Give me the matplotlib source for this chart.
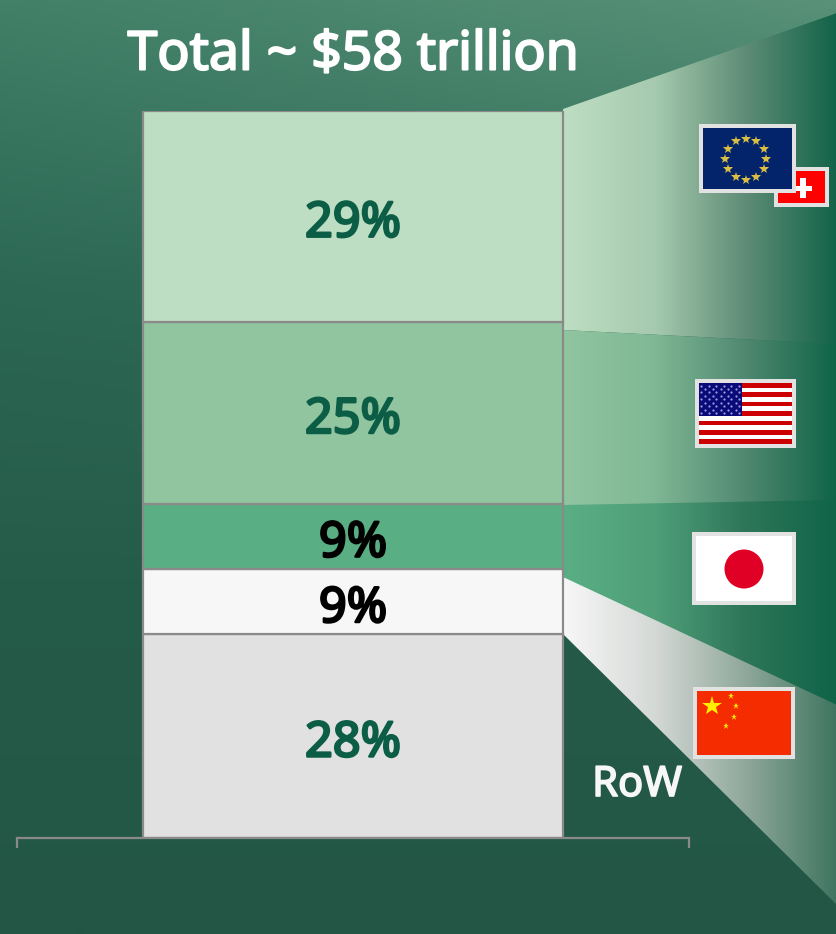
import numpy as np
import matplotlib
matplotlib.use('Agg')
import matplotlib.pyplot as plt
import matplotlib.patheffects as pe
from matplotlib.colors import LinearSegmentedColormap
from matplotlib.patches import Rectangle, Circle, Polygon

W, H = 837, 934
FONT = 'Noto Sans'

# bottom to top, as stacked in the chart
regions = ['RoW', 'China', 'Japan', 'US', 'EU + Switzerland']
shares = [28, 9, 9, 25, 29]
labels = ['28%', '9%', '9%', '25%', '29%']
bar_colors = ['#E1E1E1', '#F7F7F7', '#5AAE84', '#90C5A0', '#BEDEC3']
label_colors = ['#0B5D45', '#000000', '#000000', '#0B5D45', '#0B5D45']
title = 'Total ~ $58 trillion'

fig = plt.figure(figsize=(W / 100, H / 100), dpi=100)

# pixel canvas for background, wedges and flags
bg = fig.add_axes([0, 0, 1, 1], zorder=0)
bg.set_xlim(0, W)
bg.set_ylim(H, 0)
bg.axis('off')

left_col = np.array([(66, 128, 104), (44, 104, 84), (37, 91, 73), (35, 86, 69)]) / 255
right_col = np.array([(88, 145, 120), (50, 110, 90), (37, 91, 73), (35, 86, 69)]) / 255
stops = [0, 0.3, 0.62, 1]
ty = np.linspace(0, 1, 200)
tx = np.linspace(0, 1, 100)
img = np.zeros((200, 100, 3))
for c in range(3):
    l = np.interp(ty, stops, left_col[:, c])
    r = np.interp(ty, stops, right_col[:, c])
    img[:, :, c] = np.outer(l, 1 - tx) + np.outer(r, tx)
bg.imshow(img, extent=(0, W, H, 0), aspect='auto', zorder=0)
bg.set_xlim(0, W)
bg.set_ylim(H, 0)


def wedge(top, bottom, colors, z):
    # horizontal gradient from the bar's right edge, clipped to a band
    cmap = LinearSegmentedColormap.from_list('w', colors)
    grad = np.linspace(0, 1, 256).reshape(1, -1)
    im = bg.imshow(grad, cmap=cmap, extent=(563, W, H, 0), aspect='auto', zorder=z)
    poly = Polygon([(563, top[0]), (W, top[1]), (W, bottom[1]), (563, bottom[0])],
                   transform=bg.transData, fc='none', ec='none')
    bg.add_patch(poly)
    im.set_clip_path(poly)


def fat(color, w):
    # the installed Noto Sans only draws regular, so thicken it with a stroke
    return [pe.withStroke(linewidth=w, foreground=color)]


wedge((109, 13), (330, 344), ['#BEDEC3', '#A6CAAF', '#5E8C76', '#126349'], 1)
wedge((330, 344), (506, 501), ['#90C5A0', '#80B895', '#4F8870', '#0F6448'], 1.1)
wedge((505, 500), (600, 720), ['#5AAE84', '#4F9F79', '#2E7659', '#0F6448'], 1.2)
wedge((577, 705), (634, 905), ['#F7F7F7', '#D5D9D6', '#8FA89B', '#3F7560'], 1.3)
bg.set_xlim(0, W)
bg.set_ylim(H, 0)

# stacked bar
ax = fig.add_axes([17 / W, 1 - 838 / H, (689 - 17) / W, (838 - 111) / H], zorder=1)
ax.patch.set_alpha(0)
bottom = 0
for region, share, col, lab, lab_col in zip(regions, shares, bar_colors, labels, label_colors):
    ax.bar(0, share, width=0.625, bottom=bottom, color=col, edgecolor='#8A8A8A', linewidth=1.6, label=region)
    ax.text(0, bottom + share / 2 - 1.0, lab, ha='center', va='center', color=lab_col,
            fontsize=35, family=FONT, zorder=5, path_effects=fat(lab_col, 1.8))
    bottom += share
ax.set_xlim(-0.5, 0.5)
ax.set_ylim(0, 100)
for s in ['top', 'left', 'right']:
    ax.spines[s].set_visible(False)
ax.spines['bottom'].set_color('#8A8A8A')
ax.spines['bottom'].set_linewidth(1.6)
ax.set_yticks([])
ax.set_xticks([-0.5, 0.5])
ax.set_xticklabels([])
ax.tick_params(axis='x', length=7, width=1.6, color='#8A8A8A')

fig.text(353 / W, 1 - 56 / H, title, ha='center', va='center', color='white',
         fontsize=38.5, family=FONT, path_effects=fat('white', 1.5))
fig.text(637 / W, 1 - 785 / H, 'RoW', ha='center', va='center', color='#F7F7F7',
         fontsize=30, family=FONT, path_effects=fat('#F7F7F7', 1.2))


def flag(x0, y0, x1, y1, col, z=3):
    # light frame with a coloured field inside
    bg.add_patch(Rectangle((x0, y0), x1 - x0, y1 - y0, fc='#E2E2E2', ec='none', zorder=z))
    bg.add_patch(Rectangle((x0 + 4, y0 + 4), x1 - x0 - 8, y1 - y0 - 8, fc=col, ec='none', zorder=z + 0.1))


# Switzerland
flag(774, 167, 829, 207, '#FF0000', 3)
bg.add_patch(Rectangle((795, 185.5), 17, 5.5, fc='white', ec='none', zorder=3.2))
bg.add_patch(Rectangle((800.5, 178), 5.5, 20, fc='white', ec='none', zorder=3.2))

# EU
flag(699, 124, 796, 193, '#03246B', 4)
ang = np.deg2rad(np.arange(0, 360, 30))
bg.plot(746 + 20.5 * np.cos(ang), 159 + 20.5 * np.sin(ang), ls='', marker='*', ms=7,
        color='#D9BE45', mew=0, zorder=4.3)

# US
flag(695, 379, 796, 448, 'white', 3)
for i in range(0, 13, 2):
    bg.add_patch(Rectangle((699, 383 + i * 61 / 13), 93, 61 / 13, fc='#CC0000', ec='none', zorder=3.2))
bg.add_patch(Rectangle((699, 383), 43, 33, fc='#0A0A78', ec='none', zorder=3.3))
for row in range(9):
    n = 6 if row % 2 == 0 else 5
    off = 3 if row % 2 == 0 else 7
    bg.plot(701 + off - 3 + np.arange(n) * 7.6 + (0 if row % 2 == 0 else 0.5), [385.5 + row * 3.45] * n,
            ls='', marker='o', ms=1.6, color='#9C9CE0', mew=0, zorder=3.4)

# Japan
flag(692, 532, 796, 605, 'white', 3)
bg.add_patch(Circle((744, 569), 19.5, fc='#E00025', ec='none', zorder=3.3))

# China
flag(693, 687, 795, 759, '#F42C00', 3)
bg.plot([712], [705.5], ls='', marker='*', ms=15, color='#FFEE00', mew=0, zorder=3.3)
bg.plot([731, 736.5, 734.5, 726], [696, 706, 717, 726], ls='', marker='*', ms=5,
        color='#FFEE00', mew=0, zorder=3.3)

fig.savefig('out.png', dpi=100)
